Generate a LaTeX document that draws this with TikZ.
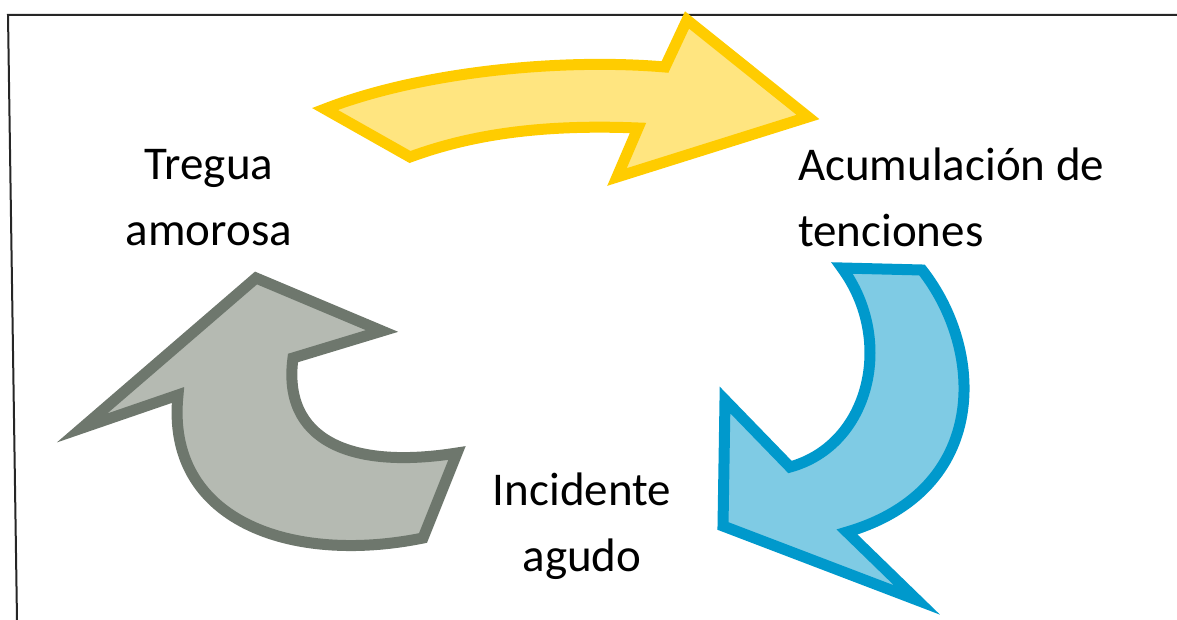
\documentclass[tikz,border=0pt]{standalone}
\usepackage{fontspec}
\setmainfont{Carlito}
\definecolor{yfill}{HTML}{FFE580}
\definecolor{ydraw}{HTML}{FFCC00}
\definecolor{bfill}{HTML}{7FCBE4}
\definecolor{bdraw}{HTML}{0099CC}
\definecolor{gfill}{HTML}{B5BAB2}
\definecolor{gdraw}{HTML}{6E776D}
\tikzset{
  arrowshape/.style={line width=11pt, line join=miter, miter limit=10},
  lbl/.style={inner sep=0pt, font=\fontsize{47}{66}\selectfont, anchor=base},
  frameline/.style={line width=2pt, draw=black!85}
}
\begin{document}
\begin{tikzpicture}[x=1pt,y=-1pt]
\useasboundingbox (0,0) rectangle (1177,620);
% frame
\coordinate (fr) at (1177,15);
\coordinate (ftl) at (8,15);
\coordinate (fbl) at (17,620);
\draw[frameline] (fr) -- (ftl) -- (fbl);
% yellow arrow
\draw[arrowshape, fill=yfill, draw=ydraw]
  (325,109) -- (410,157) .. controls (470,135) and (540,124) .. (638,128)
  -- (617,177) -- (808,117) -- (687,20) -- (665,67)
  .. controls (560,58) and (420,72) .. cycle;
% blue arrow
\draw[arrowshape, fill=bfill, draw=bdraw]
  (842,268) -- (922,270) .. controls (985,350) and (990,490) .. (847,532)
  -- (917,600) -- (723,526) -- (725,400) -- (790,467)
  .. controls (870,445) and (895,340) .. cycle;
% gray arrow
\draw[arrowshape, fill=gfill, draw=gdraw]
  (256,278) -- (382,331) -- (293,358) .. controls (282,440) and (350,470) .. (457,453)
  -- (423,538) .. controls (290,565) and (165,520) .. (178,395)
  -- (82,428) -- cycle;
% labels (base = baseline of last line)
\node[lbl, align=center] (tregua) at (209,246) {Tregua\\amorosa};
\node[lbl, align=left, anchor=base west] (acum) at (798,247) {Acumulación de\\tenciones};
\node[lbl, align=center] (incid) at (582,571) {Incidente\\agudo};
\end{tikzpicture}
\end{document}
